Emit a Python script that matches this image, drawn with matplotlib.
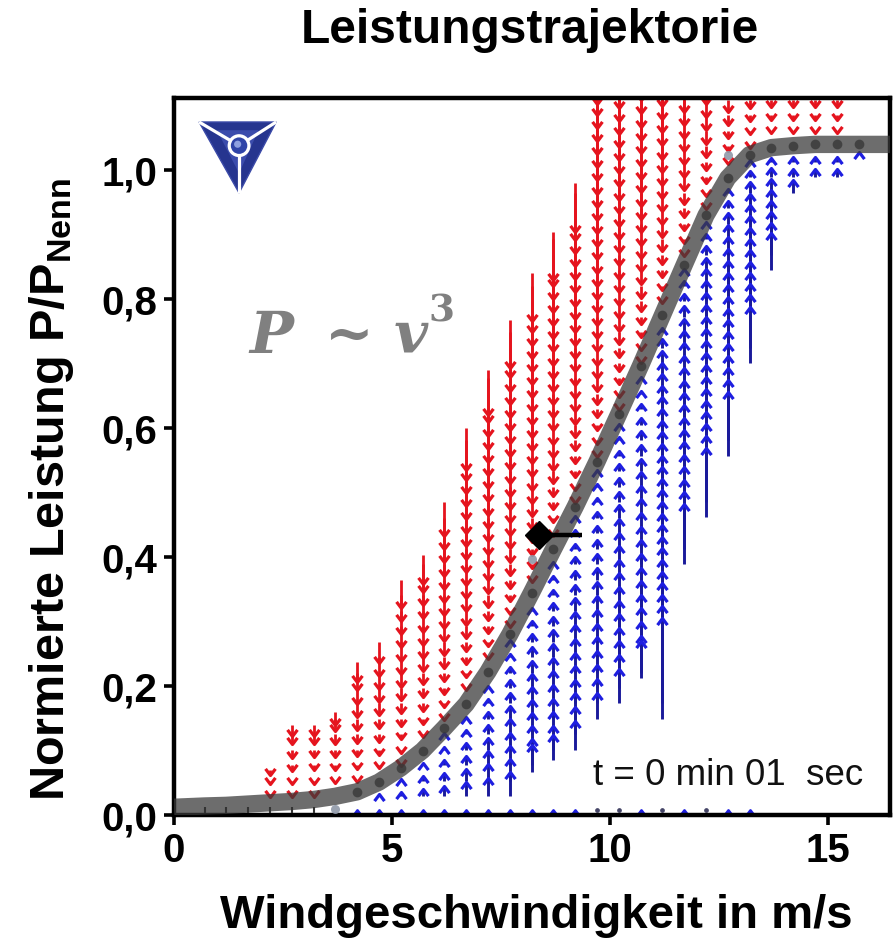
import numpy as np
import matplotlib
matplotlib.use("Agg")
import matplotlib.pyplot as plt
from matplotlib.path import Path
from matplotlib.collections import LineCollection
from matplotlib.patches import Polygon, Circle

# ---------------- data ----------------
wind_cols = [0.7, 1.2, 1.7, 2.2, 2.7, 3.2, 3.7, 4.2, 4.7, 5.2, 5.7, 6.2, 6.7, 7.2, 7.7,
             8.2, 8.7, 9.2, 9.7, 10.2, 10.7, 11.2, 11.7, 12.2, 12.7, 13.2, 13.7, 14.2,
             14.7, 15.2, 15.7]
power_at_cols = [0.014, 0.015, 0.017, 0.019, 0.021, 0.024, 0.029, 0.036, 0.051, 0.073,
                 0.100, 0.135, 0.172, 0.222, 0.280, 0.345, 0.412, 0.478, 0.548, 0.622,
                 0.697, 0.775, 0.853, 0.930, 0.988, 1.024, 1.035, 1.038, 1.040, 1.040,
                 1.040]
curve_start = (0.0, 0.012)
curve_end = (16.5, 1.040)

nan = float("nan")
# upper end of the red (downward) arrow columns
red_top = [nan, nan, nan, 0.07, 0.14, 0.14, 0.16, 0.237, 0.276, 0.367, 0.403, 0.49,
           0.60, 0.69, 0.767, 0.84, 0.904, 0.98, 1.2, 1.2, 1.2, 1.2, 1.2, 1.2, 1.2,
           1.2, 1.2, 1.2, 1.2, 1.2, nan]
# lower end of the blue (upward) arrow columns
blue_bottom = [nan, nan, nan, nan, nan, nan, nan, nan, 0.025, 0.025, 0.025, 0.025,
               0.025, 0.025, 0.025, 0.067, 0.085, 0.10, 0.144, 0.173, 0.212, 0.143,
               0.383, 0.462, 0.555, 0.698, 0.84, 0.958, 0.985, 0.985, 1.025]
# relative arrow length of the blue arrows per column
blue_gain = [0.15, 0.15, 0.15, 0.15, 0.15, 0.15, 0.15, 0.15, 0.15, 0.15, 0.15, 0.15,
             0.15, 0.15, 0.15, 0.15, 0.12, 0.12, 0.1, 0.12, 0.12, 0.25, 0.2, 0.23,
             0.23, 0.27, 0.3, 0.27, 0.25, 0.25, 0.25]
red_gain = 0.15
row_start, row_step, n_rows = 0.005, 0.024, 50

# bottom row (P = 0) markers
bottom_head_v = [4.2, 4.7, 5.2, 5.7, 6.2, 6.7, 7.2, 7.7, 8.2, 8.7, 9.2, 10.7, 11.7, 12.7, 13.2]
bottom_dot_v = [9.7, 10.2, 11.2, 12.2]
bottom_tick_v = [0.7, 1.2, 1.7, 2.2, 2.7, 3.2]
bottom_level = 0.008

# trajectory dots along the curve (from this column on)
first_dot_col = 7
ghost_v = [3.7, 8.2, 12.7]
ghost_p = [0.009, 0.397, 1.023]

# current operating point
state_v, state_p = 8.37, 0.434
state_target_v = 9.36

x_ticks = [0, 5, 10, 15]
y_ticks = [0.0, 0.2, 0.4, 0.6, 0.8, 1.0]
y_tick_labels = ["0,0", "0,2", "0,4", "0,6", "0,8", "1,0"]

# ---------------- styling ----------------
plt.rcParams["font.family"] = ["Liberation Sans", "DejaVu Sans"]
plt.rcParams["mathtext.fontset"] = "custom"
plt.rcParams["mathtext.rm"] = "Liberation Sans:bold"
plt.rcParams["mathtext.bf"] = "Liberation Sans:bold"
plt.rcParams["mathtext.it"] = "Liberation Sans:bold:italic"

RED = "#e5141e"
BLUE_HEAD = "#1e1ee0"
BLUE_SHAFT = "#1a1a9a"

fig = plt.figure(figsize=(8.95, 9.42), dpi=100)
ax = fig.add_axes([0.1944, 0.1348, 0.80, 0.7612])
ax.set_xlim(0, 16.42)
ax.set_ylim(0, 1.112)

down_head = Path([(-0.75, 1.0), (0, 0), (0.75, 1.0)], [Path.MOVETO, Path.LINETO, Path.LINETO])
up_head = Path([(-0.75, -1.0), (0, 0), (0.75, -1.0)], [Path.MOVETO, Path.LINETO, Path.LINETO])

rows = row_start + row_step * np.arange(n_rows)
red_segs, red_hx, red_hy = [], [], []
blue_segs, blue_hx, blue_hy = [], [], []
for v, pc, top, bot, g in zip(wind_cols, power_at_cols, red_top, blue_bottom, blue_gain):
    if not np.isnan(top):
        r = rows[(rows > pc + 0.004) & (rows <= top)]
        if len(r) == 0 or top - r.max() > 0.008:
            r = np.append(r, top)
        tips = r - red_gain * (r - pc)
        for a, b in zip(r, tips):
            red_segs.append([(v, a), (v, b)])
            red_hx.append(v)
            red_hy.append(b)
    if not np.isnan(bot):
        r = rows[(rows < pc - 0.004) & (rows >= bot)]
        if len(r) == 0 or r.min() - bot > 0.008:
            r = np.append(r, bot)
        tips = r + g * (pc - r)
        for a, b in zip(r, tips):
            blue_segs.append([(v, a), (v, b)])
            blue_hx.append(v)
            blue_hy.append(b)

ax.add_collection(LineCollection(red_segs, colors=RED, linewidths=2.0, zorder=2))
ax.plot(red_hx, red_hy, ls="none", marker=down_head, ms=9.5, mew=2.3,
        mec=RED, mfc="none", zorder=2)
ax.add_collection(LineCollection(blue_segs, colors=BLUE_SHAFT, linewidths=2.1, zorder=2))
ax.plot(blue_hx, blue_hy, ls="none", marker=up_head, ms=9.5, mew=2.3,
        mec=BLUE_HEAD, mfc="none", zorder=2)

# bottom row
ax.plot(bottom_head_v, [bottom_level] * len(bottom_head_v), ls="none", marker=up_head,
        ms=8, mew=2.0, mec=BLUE_HEAD, mfc="none", zorder=2, clip_on=False)
ax.plot(bottom_dot_v, [bottom_level] * len(bottom_dot_v), ls="none", marker="o",
        ms=2.4, color="#444466", zorder=2)
ax.plot(bottom_tick_v, [bottom_level] * len(bottom_tick_v), ls="none", marker="|",
        ms=4, mew=1.5, color="#333333", zorder=4)

# power curve band
curve_v = [curve_start[0]] + wind_cols + [curve_end[0]]
curve_p = [curve_start[1]] + power_at_cols + [curve_end[1]]
ax.plot(curve_v, curve_p, color="#3a3a3a", alpha=0.74, lw=12.5,
        solid_joinstyle="round", solid_capstyle="butt", zorder=3)
ax.plot(wind_cols[first_dot_col:], power_at_cols[first_dot_col:], ls="none",
        marker="o", ms=7, color="#383838", alpha=0.8, mew=0, zorder=4)
ax.plot(ghost_v, ghost_p, ls="none", marker="o", ms=6.5, color="#8f98a8",
        alpha=0.9, mew=0, zorder=4)

# operating point
ax.plot([state_v, state_target_v], [state_p, state_p], color="black", lw=3.2,
        solid_capstyle="butt", zorder=5)
ax.plot([state_v], [state_p], marker="D", ms=14, color="black", zorder=6)

# axes styling
for s in ax.spines.values():
    s.set_linewidth(3.2)
    s.set_color("black")
ax.set_xticks(x_ticks)
ax.set_xticklabels([str(t) for t in x_ticks])
ax.set_yticks(y_ticks)
ax.set_yticklabels(y_tick_labels)
ax.tick_params(direction="out", length=7, width=2.6, pad=5, labelsize=29,
               top=False, right=False)
for lab in ax.get_xticklabels() + ax.get_yticklabels():
    lab.set_fontweight("bold")

# texts
fig.text(0.592, 0.968, "Leistungstrajektorie", ha="center", va="center",
         fontsize=34.5, fontweight="bold")
fig.text(0.599, 0.0146, "Windgeschwindigkeit in m/s", ha="center", va="baseline",
         fontsize=34, fontweight="bold")
fig.text(0.058, 0.48, r"Normierte Leistung P/P$_{\mathrm{Nenn}}$", ha="center",
         va="center", rotation=90, fontsize=35, fontweight="bold")
ax.text(0.585, 0.042, "t = 0 min 01  sec", transform=ax.transAxes, ha="left",
        va="baseline", fontsize=26.5, color="#111111", zorder=7)
formula = ax.text(0.105, 0.645, "P \u2009~ v", transform=ax.transAxes, ha="left",
                  va="baseline", fontsize=42, color="#808080", fontweight="bold",
                  fontstyle="italic", family="DejaVu Serif", zorder=7)
ax.annotate("3", xy=(1.0, 0.62), xycoords=formula, ha="left", va="bottom",
            fontsize=27, color="#808080", fontweight="bold", family="DejaVu Serif",
            zorder=7)

# logo (top left)
tri = Polygon([(0.035, 0.9665), (0.1427, 0.9665), (0.0909, 0.8675)], closed=True,
              transform=ax.transAxes, facecolor="#26358f", edgecolor="#3b4aa8",
              lw=1, zorder=6)
ax.add_patch(tri)
inner = Polygon([(0.060, 0.955), (0.118, 0.955), (0.0909, 0.895)], closed=True,
                transform=ax.transAxes, facecolor="#4a5cc0", edgecolor="none",
                alpha=0.6, zorder=6)
ax.add_patch(inner)
cx, cy = 0.0909, 0.9335
for ex, ey in [(0.035, 0.9665), (0.1427, 0.9665), (0.0909, 0.8675)]:
    ax.plot([cx, ex], [cy, ey], color="white", lw=2.3, transform=ax.transAxes,
            zorder=7, solid_capstyle="butt")
ax.add_patch(Circle((cx, cy), 0.016, transform=ax.transAxes, facecolor="white",
                    edgecolor="none", zorder=8))
ax.add_patch(Circle((cx, cy), 0.0115, transform=ax.transAxes, facecolor="#2f44a8",
                    edgecolor="none", zorder=9))
ax.add_patch(Circle((cx - 0.002, cy + 0.002), 0.005, transform=ax.transAxes,
                    facecolor="#8ea0e0", edgecolor="none", zorder=10))

fig.savefig("out.png", dpi=100, facecolor="white")
